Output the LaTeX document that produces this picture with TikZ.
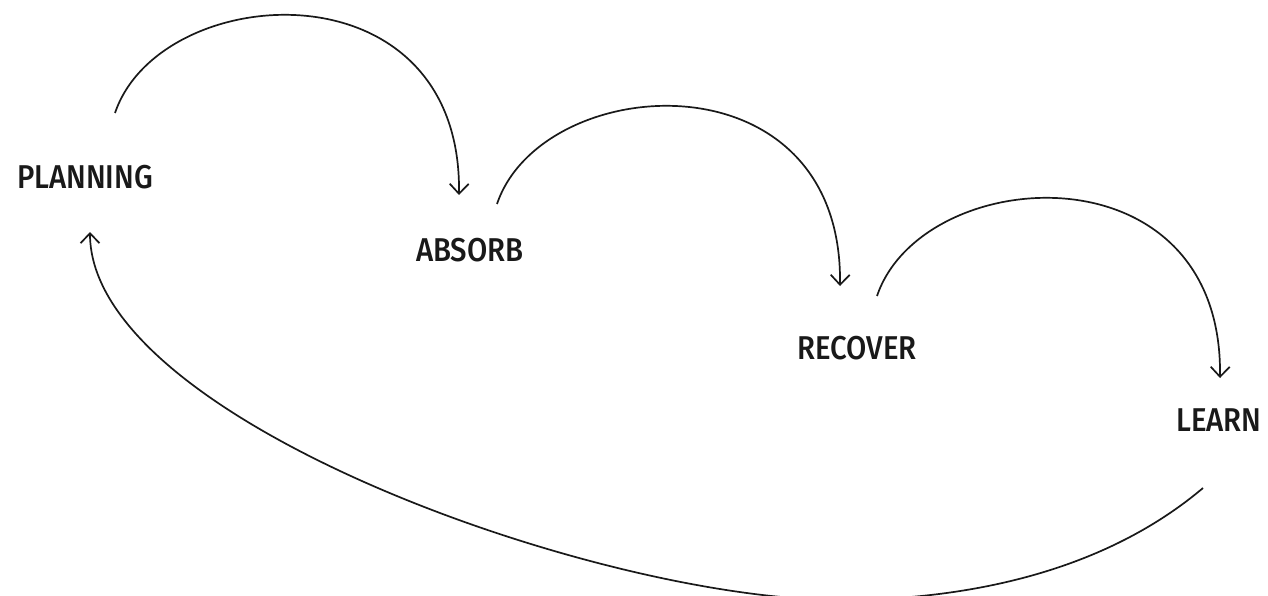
\documentclass[tikz,border=0pt]{standalone}
\usepackage{fontspec}
\setmainfont{Fira Sans}[FakeStretch=0.89, UprightFont={* Medium}]
\usetikzlibrary{arrows.meta}
\tikzset{
  lbl/.style={font=\fontsize{33}{36}\selectfont, inner sep=0pt, text=black!90},
  conn/.style={line width=1.7pt, black!90, -{Straight Barb[length=10pt,width=19pt,line width=1.7pt]}},
  plainconn/.style={line width=1.7pt, black!90}
}
\begin{document}
\begin{tikzpicture}[x=1pt,y=-1pt]
\useasboundingbox (0,0) rectangle (1268,596);
\clip (0,0) rectangle (1268,596);
\node[lbl] (planning) at (85,177) {PLANNING};
\node[lbl] (absorb) at (470,250) {ABSORB};
\node[lbl] (recover) at (857,348) {RECOVER};
\node[lbl] (learn) at (1219,420) {LEARN};
\coordinate (p-out) at ([shift={(30,-64)}]planning.center);
\coordinate (a-in) at ([shift={(-11,-55)}]absorb.center);
\coordinate (a-out) at ([shift={(27,-46)}]absorb.center);
\coordinate (r-in) at ([shift={(-17,-62)}]recover.center);
\coordinate (r-out) at ([shift={(20,-52)}]recover.center);
\coordinate (l-in) at ([shift={(1,-42)}]learn.center);
\coordinate (l-out) at ([shift={(-16,68)}]learn.center);
\coordinate (p-in) at ([shift={(5,55)}]planning.center);
\coordinate (low) at (840,600);
\draw[conn] (p-out) .. controls +(45,-133) and +(3,-235) .. (a-in);
\draw[conn] (a-out) .. controls +(45,-133) and +(3,-235) .. (r-in);
\draw[conn] (r-out) .. controls +(45,-133) and +(3,-235) .. (l-in);
\draw[plainconn] (l-out) .. controls +(-103,87) and +(120,0) .. (low);
\draw[conn] (low) .. controls +(-240,0) and +(0,188) .. (p-in);
\end{tikzpicture}
\end{document}
